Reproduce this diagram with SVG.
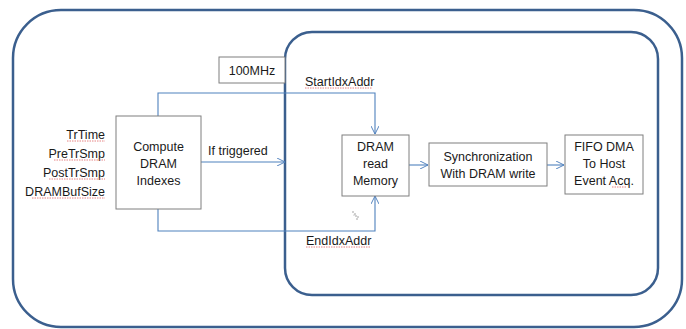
<svg xmlns="http://www.w3.org/2000/svg" width="686" height="329" viewBox="0 0 686 329">
<defs>
<marker id="arr" viewBox="0 0 10 10" refX="10" refY="5" markerWidth="8" markerHeight="8" markerUnits="userSpaceOnUse" orient="auto">
<path d="M0,0 L10,5 L0,10" fill="none" stroke="#4f81bd" stroke-width="1.2"/>
</marker>
<style>
.frame{fill:none;stroke:#3b5f8e;stroke-width:2.5}
.box{fill:#ffffff;stroke:#7f7f7f;stroke-width:1}
.conn{fill:none;stroke:#4f81bd;stroke-width:1.1}
.t{font-family:"Liberation Sans",Arial,sans-serif;font-size:12.5px;fill:#1a1a1a}
.c{text-anchor:middle}
.r{text-anchor:end}
.sq{fill:none;stroke:#e06666;stroke-width:0.8;stroke-dasharray:1.5 1}
</style>
</defs>
<rect x="0" y="0" width="686" height="329" fill="#ffffff"/>
<g id="outer-frame"><rect class="frame" x="13" y="10" width="669" height="317" rx="48" ry="48"/></g>
<g id="inner-frame"><rect class="frame" x="285" y="32" width="373" height="263" rx="27" ry="27"/></g>

<g id="connectors">
<polyline class="conn" points="158,116 158,93 375,93 375,134" marker-end="url(#arr)"/>
<polyline class="conn" points="158,209 158,231 375,231 375,196" marker-end="url(#arr)"/>
<line class="conn" x1="201" y1="162" x2="285" y2="162" marker-end="url(#arr)"/>
<line class="conn" x1="409" y1="165" x2="428" y2="165" marker-end="url(#arr)"/>
<line class="conn" x1="547" y1="165" x2="564" y2="165" marker-end="url(#arr)"/>
</g>

<g id="clk">
<rect class="box" x="219" y="57" width="66" height="26"/>
<text class="t c" x="252" y="75">100MHz</text>
</g>

<g id="inputs">
<text class="t r" x="105" y="139">TrTime</text>
<text class="t r" x="105" y="158">PreTrSmp</text>
<text class="t r" x="105" y="177">PostTrSmp</text>
<text class="t r" x="105" y="196">DRAMBufSize</text>
<path class="sq" d="M67,141 H105 M54,160 H105 M49,179 H105 M32,198 H105"/>
</g>

<g id="compute">
<rect class="box" x="116" y="116" width="85" height="93"/>
<text class="t c" x="158.5" y="151">Compute</text>
<text class="t c" x="158.5" y="168">DRAM</text>
<text class="t c" x="158.5" y="185">Indexes</text>
</g>

<g id="labels">
<text class="t" x="208" y="155">If triggered</text>
<text class="t" x="305" y="86">StartIdxAddr</text>
<path class="sq" d="M305,88 H372"/>
<text class="t" x="306" y="245">EndIdxAddr</text>
<path class="sq" d="M306,247 H370"/>
</g>

<g id="dram">
<rect class="box" x="342" y="135" width="67" height="61"/>
<text class="t c" x="375.5" y="151">DRAM</text>
<text class="t c" x="375.5" y="168">read</text>
<text class="t c" x="375.5" y="185">Memory</text>
</g>

<g id="sync">
<rect class="box" x="429" y="143" width="118" height="43"/>
<text class="t c" x="488" y="161">Synchronization</text>
<text class="t c" x="488" y="178">With DRAM write</text>
</g>

<g id="fifo">
<rect class="box" x="565" y="135" width="78" height="59"/>
<text class="t c" x="604" y="151">FIFO DMA</text>
<text class="t c" x="604" y="168">To Host</text>
<text class="t c" x="604" y="185">Event Acq.</text>
<path class="sq" d="M612,187 H626"/>
</g>

<g id="cursor" fill="#999999">
<circle cx="353" cy="212" r="0.8"/><circle cx="355" cy="214" r="0.8"/><circle cx="356" cy="216" r="0.8"/><circle cx="358" cy="217" r="0.8"/><circle cx="357" cy="219" r="0.8"/><circle cx="354" cy="215" r="0.6"/>
</g>
</svg>
